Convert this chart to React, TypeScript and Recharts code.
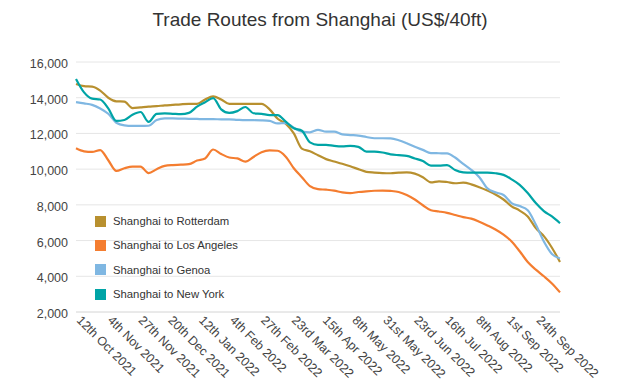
import { LineChart, Line, XAxis, YAxis, CartesianGrid } from "recharts";

// one reading every 6 days, starting 12th Oct 2021
const DAY_STEP = 6;

const rotterdam = [
  14770, 14650, 14620, 14400, 14000, 13800, 13780, 13420, 13460, 13500, 13530,
  13570, 13600, 13630, 13650, 13650, 13900, 14080, 13900, 13650, 13650,
  13660, 13650, 13650, 13350, 12820, 12550, 12000, 11150, 11000, 10780,
  10560, 10430, 10300, 10160, 10000, 9850, 9810, 9780, 9770, 9800,
  9820, 9750, 9550, 9260, 9320, 9280, 9210, 9240, 9150, 8990,
  8800, 8580, 8300, 7920, 7680, 7350, 6700, 6250, 5600, 4800,
];

const losAngeles = [
  11170, 11000, 10970, 11070, 10500, 9900, 10050, 10140, 10140, 9780, 10000,
  10180, 10230, 10250, 10280, 10480, 10600, 11100, 10850, 10650, 10600,
  10420, 10680, 10950, 11050, 11030, 10700, 10050, 9550, 9050, 8880,
  8850, 8800, 8700, 8660, 8720, 8760, 8790, 8800, 8780, 8720,
  8550, 8300, 7980, 7700, 7630, 7550, 7430, 7310, 7230, 7060,
  6850, 6620, 6330, 5950, 5400, 4800, 4370, 4000, 3600, 3100,
];

const genoa = [
  13750, 13680, 13600, 13400, 13100, 12600, 12450, 12420, 12420, 12430, 12750,
  12840, 12840, 12830, 12820, 12810, 12800, 12800, 12790, 12790, 12760,
  12740, 12740, 12730, 12700, 12560, 12580, 12320, 12100, 12060, 12200,
  12100, 12100, 11950, 11910, 11880, 11800, 11730, 11730, 11720, 11620,
  11450, 11250, 11080, 10900, 10890, 10880, 10650, 10290, 9960, 9550,
  8930, 8700, 8550, 8100, 7930, 7700, 6900, 5950, 5250, 5000,
];

const newYork = [
  15050, 14300, 13950, 13900, 13400, 12700, 12750, 13050, 13200, 12650, 13100,
  13120, 13100, 13080, 13150, 13500, 13750, 13980, 13350, 13150, 13250,
  13480, 13130, 13100, 13030, 13030, 12660, 12290, 12150, 11500, 11360,
  11360, 11300, 11270, 11300, 11250, 10980, 10980, 10930, 10830, 10780,
  10740, 10600, 10450, 10200, 10200, 10230, 9950, 9820, 9800, 9800,
  9800, 9770, 9680, 9430, 9120, 8660, 8100, 7650, 7350, 6970,
];

const tickDays = [0, 23, 46, 68, 91, 114, 137, 160, 183, 205, 228, 251, 274, 297, 320, 342];
const tickLabels = [
  "12th Oct 2021", "4th Nov 2021", "27th Nov 2021", "20th Dec 2021",
  "12th Jan 2022", "4th Feb 2022", "27th Feb 2022", "23rd Mar 2022",
  "15th Apr 2022", "8th May 2022", "31st May 2022", "23rd Jun 2022",
  "16th Jul 2022", "8th Aug 2022", "1st Sep 2022", "24th Sep 2022",
];

const yTicks = [2000, 4000, 6000, 8000, 10000, 12000, 14000, 16000];

const series = [
  { key: "rotterdam", name: "Shanghai to Rotterdam", color: "#b8902f" },
  { key: "losAngeles", name: "Shanghai to Los Angeles", color: "#f47d30" },
  { key: "genoa", name: "Shanghai to Genoa", color: "#7fb7e2" },
  { key: "newYork", name: "Shanghai to New York", color: "#00a4a6" },
];

const data = rotterdam.map((v, i) => ({
  day: i * DAY_STEP,
  rotterdam: v,
  losAngeles: losAngeles[i],
  genoa: genoa[i],
  newYork: newYork[i],
}));

const FONT = '"Liberation Sans", Arial, sans-serif';

function DateTick({ x, y, payload }: any) {
  const idx = tickDays.indexOf(payload.value);
  return (
    <g transform={`translate(${x},${y})`}>
      <text transform="rotate(45)" textAnchor="start" fontSize={12.5} fill="#444" fontFamily={FONT}>
        {tickLabels[idx]}
      </text>
    </g>
  );
}

function ValueTick({ x, y, payload }: any) {
  return (
    <text x={x} y={y} dy={6} textAnchor="end" fontSize={12.5} fill="#444" fontFamily={FONT}>
      {payload.value.toLocaleString("en-US")}
    </text>
  );
}

export default function App() {
  return (
    <div style={{ position: "absolute", left: 0, top: 0, width: 640, height: 386, background: "#fff" }}>
      <div
        style={{
          position: "absolute",
          top: 10,
          width: 640,
          textAlign: "center",
          fontFamily: FONT,
          fontSize: 19,
          lineHeight: "19px",
          color: "#333",
        }}
      >
        Trade Routes from Shanghai (US$/40ft)
      </div>
      <LineChart width={640} height={386} data={data} margin={{ top: 62, right: 80, bottom: 4, left: 16 }}>
        <CartesianGrid vertical={false} stroke="#e6e6e6" />
        <XAxis
          dataKey="day"
          type="number"
          domain={[0, 360]}
          ticks={tickDays}
          interval={0}
          tick={<DateTick />}
          tickLine={false}
          tickSize={0}
          tickMargin={9}
          axisLine={{ stroke: "#e0e0e0" }}
          height={70}
        />
        <YAxis
          type="number"
          domain={[2000, 16000]}
          ticks={yTicks}
          tick={<ValueTick />}
          tickLine={false}
          axisLine={false}
          width={60}
        />
        {series.map((s) => (
          <Line
            key={s.key}
            type="monotone"
            dataKey={s.key}
            name={s.name}
            stroke={s.color}
            strokeWidth={2.2}
            dot={false}
            isAnimationActive={false}
          />
        ))}
      </LineChart>
      {/* legend sits inside the plot, lower left */}
      <div
        style={{
          position: "absolute",
          left: 95,
          top: 209,
          fontFamily: FONT,
          fontSize: 11.3,
          color: "#333",
        }}
      >
        {series.map((s) => (
          <div key={s.key} style={{ height: 24.3, display: "flex", alignItems: "center" }}>
            <span style={{ width: 11, height: 11, background: s.color, marginRight: 7, display: "inline-block" }} />
            {s.name}
          </div>
        ))}
      </div>
    </div>
  );
}
